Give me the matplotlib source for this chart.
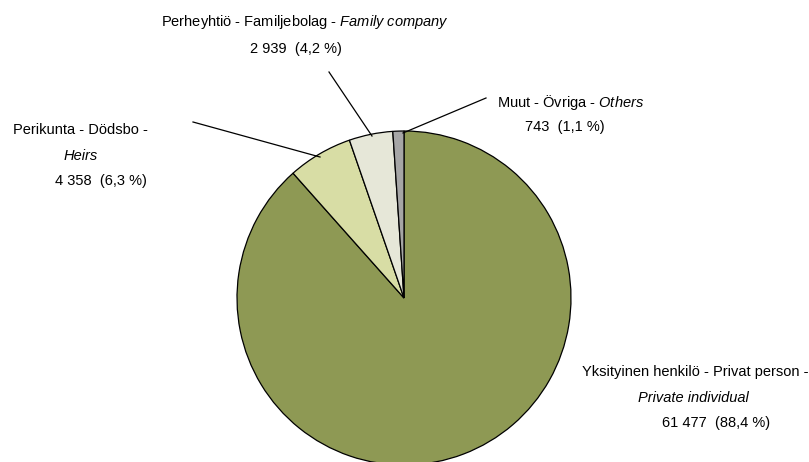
import matplotlib
matplotlib.use("Agg")
import matplotlib.pyplot as plt

plt.rcParams['font.family'] = ['Liberation Sans', 'DejaVu Sans']
plt.rcParams['mathtext.fontset'] = 'custom'
plt.rcParams['mathtext.rm'] = 'Liberation Sans'
plt.rcParams['mathtext.it'] = 'Liberation Sans:italic'

# data
names = ["Yksityinen henkilö - Privat person -", "Perikunta - Dödsbo -",
         "Perheyhtiö - Familjebolag -", "Muut - Övriga -"]
names_en = ["Private individual", "Heirs", "Family company", "Others"]
counts = [61477, 4358, 2939, 743]
shares = [88.4, 6.3, 4.2, 1.1]
colors = ['#8e9954', '#d8dda5', '#e6e7d8', '#a6a6a6']

W, H = 809, 462
fig = plt.figure(figsize=(W / 100, H / 100), dpi=100)

# pie centre (404, 298) px, radius 167 px
cx, cy, r = 404, 298, 167
ax = fig.add_axes([(cx - r) / W, (H - cy - r) / H, 2 * r / W, 2 * r / H])
wedges, _ = ax.pie(counts, colors=colors, startangle=90, counterclock=False,
                   wedgeprops=dict(edgecolor='black', linewidth=0.9))
for w in wedges:
    w.set_clip_on(False)
ax.set_xlim(-1, 1)
ax.set_ylim(-1, 1)
ax.axis('off')


def fmt(n, p):
    return f"{n:,}".replace(",", " ") + "  (" + f"{p:.1f}".replace(".", ",") + " %)"


def px(x, y, s, **kw):
    fig.text(x / W, 1 - y / H, s, fontsize=10.5, va='center', **kw)


# Family company
px(305, 22, names[2] + r" $\mathit{Family\ company}$", ha='center')
px(296, 49, fmt(counts[2], shares[2]), ha='center')
# Others
px(497, 102, names[3] + r" $\mathit{Others}$", ha='left')
px(565, 127, fmt(counts[3], shares[3]), ha='center')
# Heirs
px(80, 130, names[1], ha='center')
px(81, 156, names_en[1], ha='center', style='italic')
px(101, 181, fmt(counts[1], shares[1]), ha='center')
# Private
px(695, 372, names[0], ha='center')
px(693, 398, names_en[0], ha='center', style='italic')
px(716, 423, fmt(counts[0], shares[0]), ha='center')

# leader lines
leaders = [((329, 72), (372, 136)), ((486, 98), (403, 133)), ((193, 122), (320, 157))]
for (x0, y0), (x1, y1) in leaders:
    fig.add_artist(plt.Line2D([x0 / W, x1 / W], [1 - y0 / H, 1 - y1 / H],
                              color='black', linewidth=0.9, transform=fig.transFigure))

fig.savefig("out.png", dpi=100)
